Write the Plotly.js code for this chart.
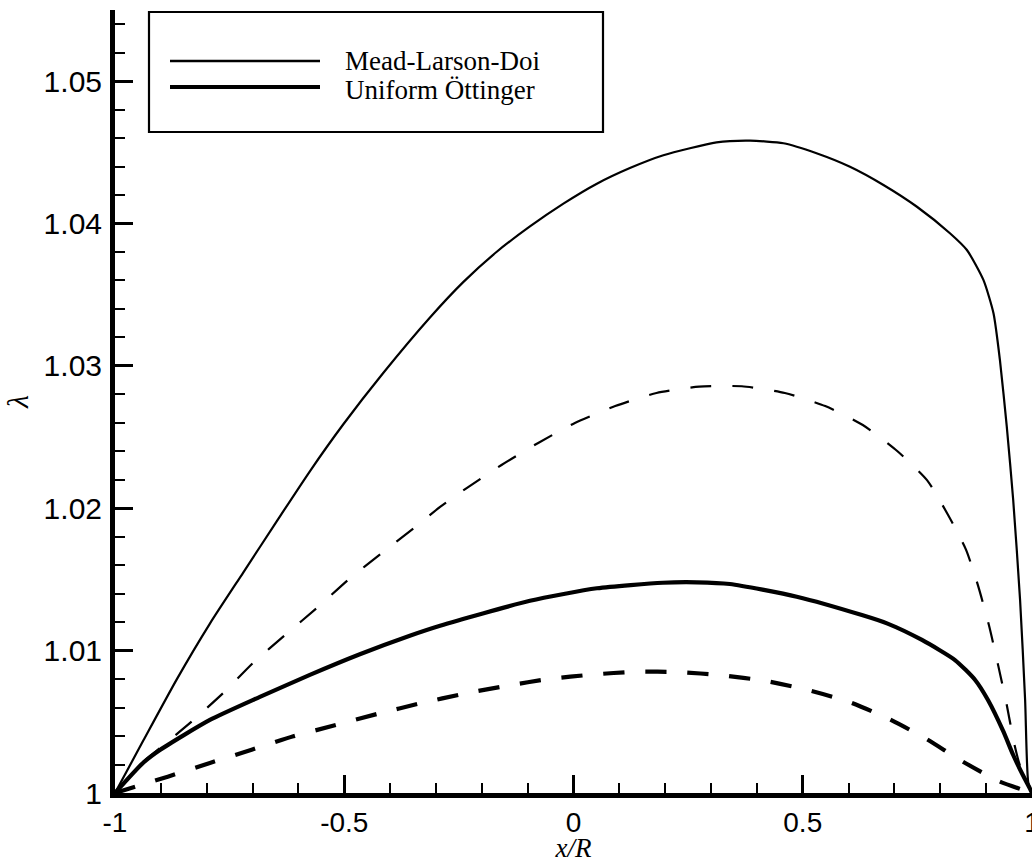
<!DOCTYPE html>
<html>
<head>
<meta charset="utf-8">
<script src="https://cdn.plot.ly/plotly-3.0.1.min.js"></script>
<style>html,body{margin:0;padding:0;background:#fff;}</style>
</head>
<body>
<div id="chart" style="width:1032px;height:863px;"></div>
<script>
// Mead-Larson-Doi (thin solid)
const mldX = [-1.000,-0.938,-0.865,-0.793,-0.720,-0.647,-0.575,-0.502,-0.415,-0.313,-0.240,-0.168,-0.095,-0.022,0.051,0.123,0.196,0.312,0.385,0.458,0.530,0.603,0.676,0.749,0.821,0.858,0.894,0.916,0.930,0.945,0.959,0.974,0.985,0.992,1.000];
const mldY = [1.00000,1.00370,1.00800,1.01190,1.01550,1.01910,1.02260,1.02590,1.02950,1.03340,1.03590,1.03800,1.03980,1.04140,1.04280,1.04390,1.04480,1.04570,1.04582,1.04564,1.04494,1.04399,1.04271,1.04118,1.03932,1.03814,1.03604,1.03370,1.03042,1.02573,1.02058,1.01356,1.00653,1.00070,1.00000];

// Uniform Öttinger (thick solid)
const uoX = [-1.000,-0.939,-0.902,-0.793,-0.684,-0.575,-0.466,-0.357,-0.291,-0.095,0.051,0.195,0.269,0.341,0.487,0.629,0.685,0.760,0.832,0.876,0.904,0.937,0.959,0.980,0.996,1.000];
const uoY = [1.00000,1.00211,1.00302,1.00513,1.00675,1.00830,1.00975,1.01105,1.01175,1.01350,1.01438,1.01477,1.01480,1.01468,1.01379,1.01250,1.01190,1.01075,1.00934,1.00794,1.00653,1.00436,1.00267,1.00126,1.00028,1.00000];

// Mead-Larson-Doi, second case (thin dashed)
const mld2X = [-1.000,-0.939,-0.902,-0.833,-0.764,-0.699,-0.629,-0.557,-0.492,-0.418,-0.345,-0.291,-0.233,-0.157,-0.077,0.003,0.091,0.181,0.274,0.367,0.461,0.549,0.631,0.706,0.771,0.817,0.856,0.882,0.906,0.926,0.945,0.961,0.974,1.000];
const mld2Y = [1.00000,1.00218,1.00316,1.00501,1.00702,1.00913,1.01110,1.01307,1.01496,1.01686,1.01869,1.02009,1.02142,1.02304,1.02459,1.02599,1.02718,1.02810,1.02854,1.02857,1.02810,1.02718,1.02585,1.02402,1.02198,1.01953,1.01710,1.01460,1.01180,1.00900,1.00618,1.00350,1.00190,1.00000];

// Uniform Öttinger, second case (thick dashed)
const uo2X = [-1.000,-0.885,-0.793,-0.702,-0.611,-0.518,-0.426,-0.334,-0.238,-0.146,-0.053,0.039,0.136,0.230,0.324,0.417,0.509,0.600,0.685,0.768,0.845,0.927,1.000];
const uo2Y = [1.00000,1.00115,1.00211,1.00304,1.00398,1.00478,1.00557,1.00630,1.00698,1.00753,1.00801,1.00831,1.00852,1.00849,1.00827,1.00788,1.00725,1.00641,1.00525,1.00383,1.00228,1.00084,1.00000];

// Tick labels
const xTickVals = [-1, -0.5, 0, 0.5, 1];
const xTickText = ["-1", "-0.5", "0", "0.5", "1"];
const yTickVals = [1, 1.01, 1.02, 1.03, 1.04, 1.05];
const yTickText = ["1", "1.01", "1.02", "1.03", "1.04", "1.05"];

// Legend entries
const legendNames = ["Mead-Larson-Doi", "Uniform Öttinger"];

const W = 1032, H = 863;
const M = {l: 115, r: 0, t: 10, b: 70};
const PW = W - M.l - M.r, PH = H - M.t - M.b;
const px = v => (v - M.l) / PW;       // pixel -> paper x
const py = v => (H - M.b - v) / PH;   // pixel -> paper y

const traces = [
  {x: mldX, y: mldY, name: "Mead-Larson-Doi", mode: "lines",
   line: {color: "#000", width: 2.2, shape: "spline", smoothing: 0.6}},
  {x: uoX, y: uoY, name: "Uniform Öttinger", mode: "lines",
   line: {color: "#000", width: 4.2, shape: "spline", smoothing: 0.6}},
  {x: mld2X, y: mld2Y, name: "Mead-Larson-Doi (dashed)", mode: "lines",
   line: {color: "#000", width: 2.2, dash: "21px,21px", shape: "spline", smoothing: 0.6}},
  {x: uo2X, y: uo2Y, name: "Uniform Öttinger (dashed)", mode: "lines",
   line: {color: "#000", width: 4.2, dash: "21px,21px", shape: "spline", smoothing: 0.6}}
];

const serif = "Liberation Serif, Times New Roman, serif";
const sans = "Liberation Sans, Arial, sans-serif";

const layout = {
  width: W, height: H,
  margin: M,
  paper_bgcolor: "#fff", plot_bgcolor: "#fff",
  showlegend: false,
  xaxis: {
    range: [-1, 1], showgrid: false, zeroline: false,
    showline: true, linecolor: "#000", linewidth: 5,
    ticks: "inside", ticklen: 18, tickwidth: 3, tickcolor: "#000",
    tickmode: "array", tickvals: xTickVals, ticktext: xTickText,
    tickfont: {family: sans, size: 28, color: "#000"}, ticklabeloverflow: "allow",
    minor: {ticks: "inside", ticklen: 10, tickwidth: 2, tickcolor: "#000", dtick: 0.1, tick0: 0, showgrid: false},
    title: {text: "<i>x/R</i>", font: {family: serif, size: 27, color: "#000"}, standoff: 7}
  },
  yaxis: {
    range: [1, 1.055], showgrid: false, zeroline: false,
    showline: true, linecolor: "#000", linewidth: 5,
    ticks: "inside", ticklen: 18, tickwidth: 3, tickcolor: "#000",
    tickmode: "array", tickvals: yTickVals, ticktext: yTickText,
    tickfont: {family: sans, size: 30, color: "#000"}, ticklabelstandoff: 2,
    minor: {ticks: "inside", ticklen: 10, tickwidth: 2, tickcolor: "#000", dtick: 0.002, tick0: 1, showgrid: false},
    title: {text: "<i>λ</i>", font: {family: serif, size: 30, color: "#000"}, standoff: 8}
  },
  shapes: [
    {type: "rect", xref: "paper", yref: "paper", x0: px(149), x1: px(603), y0: py(132), y1: py(12),
     line: {color: "#000", width: 2.2}, fillcolor: "#fff", layer: "above"},
    {type: "line", xref: "paper", yref: "paper", x0: px(170), x1: px(320), y0: py(61), y1: py(61),
     line: {color: "#000", width: 2.4}},
    {type: "line", xref: "paper", yref: "paper", x0: px(170), x1: px(320), y0: py(87), y1: py(87),
     line: {color: "#000", width: 4.2}}
  ],
  annotations: [
    {xref: "paper", yref: "paper", x: px(343), y: py(61), xanchor: "left", yanchor: "middle",
     text: legendNames[0], showarrow: false, font: {family: serif, size: 27, color: "#000"}},
    {xref: "paper", yref: "paper", x: px(343), y: py(90), xanchor: "left", yanchor: "middle",
     text: legendNames[1], showarrow: false, font: {family: serif, size: 27, color: "#000"}}
  ]
};

Plotly.newPlot("chart", traces, layout, {displayModeBar: false, staticPlot: true});
</script>
</body>
</html>
